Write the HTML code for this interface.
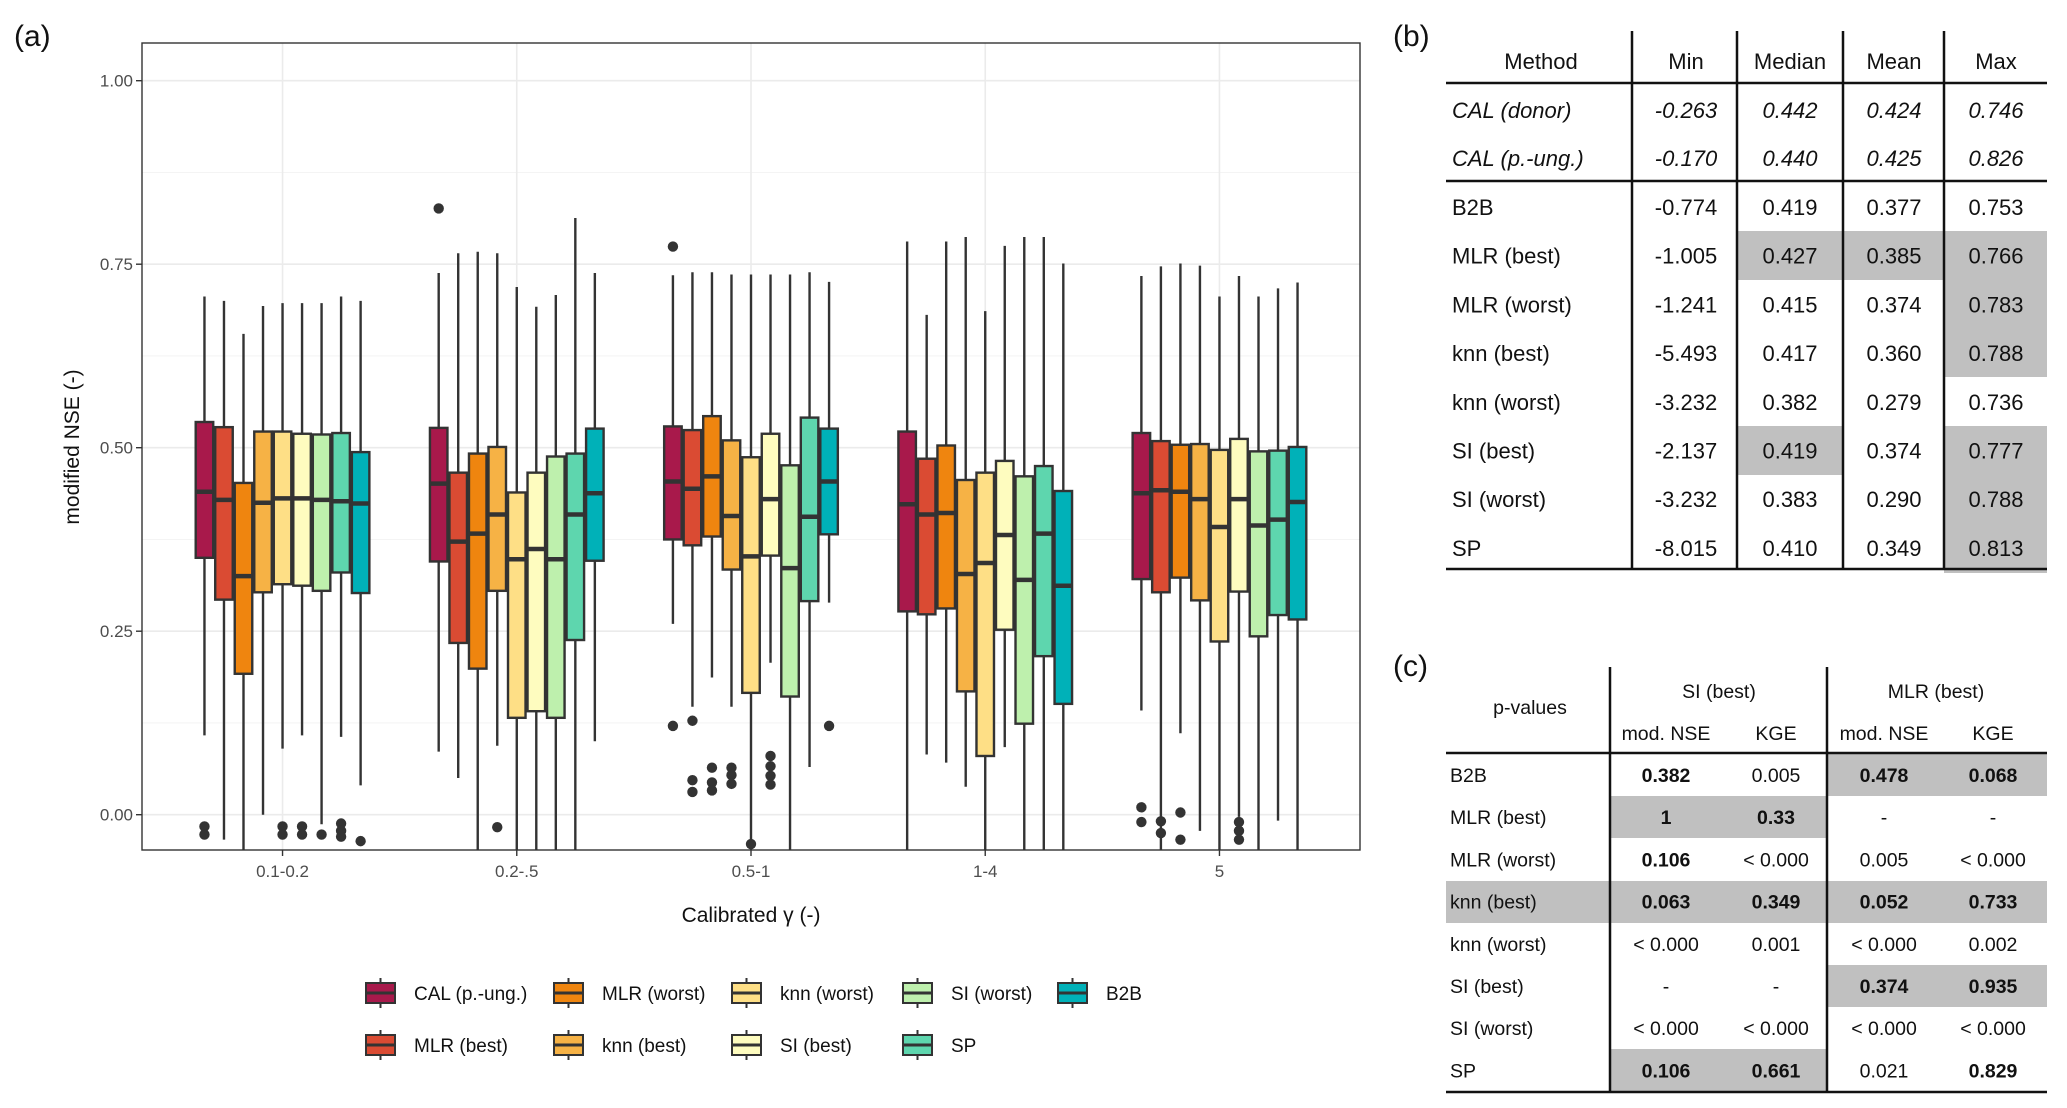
<!DOCTYPE html>
<html><head><meta charset="utf-8"><style>
html,body{margin:0;padding:0;background:#fff;}
svg{display:block;font-family:"Liberation Sans",Arial,sans-serif;}
</style></head><body>
<svg id="fig" width="2067" height="1108" viewBox="0 0 2067 1108" xmlns="http://www.w3.org/2000/svg">
<defs><clipPath id="pclip"><rect x="142" y="43" width="1218" height="807"/></clipPath></defs>
<text x="14" y="46" font-size="30" fill="#111">(a)</text>
<rect x="142" y="43" width="1218" height="807" fill="#fff"/>
<g id="grid"></g>
<g id="marks" clip-path="url(#pclip)"></g>
<rect x="142" y="43" width="1218" height="807" fill="none" stroke="#333" stroke-width="1.4"/>
<g id="axes"></g>
<text x="751" y="922" font-size="21" text-anchor="middle" fill="#111">Calibrated γ (-)</text>
<text transform="translate(79,447) rotate(-90)" font-size="21" text-anchor="middle" fill="#111">modified NSE (-)</text>
<g id="legend"></g>

<!-- Table b -->
<g font-size="22" fill="#111">
<text x="1393" y="46" font-size="30">(b)</text>
<rect x="1737" y="231" width="106" height="49" fill="#c0c0c0"/>
<rect x="1843" y="231" width="101" height="49" fill="#c0c0c0"/>
<rect x="1944" y="231" width="103" height="146" fill="#c0c0c0"/>
<rect x="1737" y="426" width="106" height="49" fill="#c0c0c0"/>
<rect x="1944" y="426" width="103" height="147" fill="#c0c0c0"/>
<g stroke="#111" stroke-width="2.5">
<line x1="1446" y1="83" x2="2047" y2="83"/>
<line x1="1446" y1="181" x2="2047" y2="181"/>
<line x1="1446" y1="569" x2="2047" y2="569"/>
<line x1="1632" y1="31" x2="1632" y2="569"/>
<line x1="1737" y1="31" x2="1737" y2="569"/>
<line x1="1843" y1="31" x2="1843" y2="569"/>
<line x1="1944" y1="31" x2="1944" y2="569"/>
</g>
<g text-anchor="middle">
<text x="1541" y="69">Method</text><text x="1686" y="69">Min</text><text x="1790" y="69">Median</text><text x="1894" y="69">Mean</text><text x="1996" y="69">Max</text>
</g>
<g font-style="italic">
<text x="1452" y="118">CAL (donor)</text><text x="1452" y="166">CAL (p.-ung.)</text>
<g text-anchor="middle"><text x="1686" y="118">-0.263</text><text x="1790" y="118">0.442</text><text x="1894" y="118">0.424</text><text x="1996" y="118">0.746</text>
<text x="1686" y="166">-0.170</text><text x="1790" y="166">0.440</text><text x="1894" y="166">0.425</text><text x="1996" y="166">0.826</text></g>
</g>
<g id="tb-rows"></g>
</g>

<!-- Table c -->
<g font-size="19.5" fill="#111">
<text x="1393" y="676" font-size="30">(c)</text>
<rect x="1827" y="754" width="220" height="42" fill="#c0c0c0"/>
<rect x="1610" y="796" width="217" height="42" fill="#c0c0c0"/>
<rect x="1446" y="881" width="601" height="42" fill="#c0c0c0"/>
<rect x="1827" y="965" width="220" height="42" fill="#c0c0c0"/>
<rect x="1610" y="1049" width="217" height="42" fill="#c0c0c0"/>
<g stroke="#111" stroke-width="2.5">
<line x1="1446" y1="753" x2="2047" y2="753"/>
<line x1="1446" y1="1092" x2="2047" y2="1092"/>
<line x1="1610" y1="667" x2="1610" y2="1092"/>
<line x1="1827" y1="667" x2="1827" y2="1092"/>
</g>
<g text-anchor="middle">
<text x="1530" y="714">p-values</text>
<text x="1719" y="698">SI (best)</text><text x="1936" y="698">MLR (best)</text>
<text x="1666" y="740">mod. NSE</text><text x="1776" y="740">KGE</text><text x="1884" y="740">mod. NSE</text><text x="1993" y="740">KGE</text>
</g>
<g id="tc-rows"></g>
</g>
</svg>
<script>
const NS='http://www.w3.org/2000/svg';
const categories=['0.1-0.2','0.2-.5','0.5-1','1-4','5'];
const seriesNames=['CAL (p.-ung.)','MLR (best)','MLR (worst)','knn (best)','knn (worst)','SI (best)','SI (worst)','SP','B2B'];
const seriesColors=['#A8194B','#DA4B33','#EF850F','#F6B245','#FEDF86','#FEFCBF','#BEF0AD','#5ED6AE','#00B1B8'];
const yTicks=[0,0.25,0.5,0.75,1];
const yTickLabels=['0.00','0.25','0.50','0.75','1.00'];
// stats[group][series]
const whiskerHigh=[
 [0.706,0.700,0.655,0.693,0.697,0.697,0.697,0.706,0.700],
 [0.738,0.765,0.767,0.765,0.719,0.692,0.708,0.813,0.738],
 [0.735,0.739,0.739,0.736,0.736,0.736,0.736,0.739,0.726],
 [0.781,0.681,0.781,0.787,0.686,0.775,0.787,0.787,0.751],
 [0.734,0.747,0.751,0.748,0.706,0.734,0.706,0.717,0.725]];
const q3=[
 [0.535,0.528,0.452,0.522,0.522,0.519,0.518,0.520,0.494],
 [0.527,0.466,0.492,0.501,0.439,0.466,0.488,0.492,0.526],
 [0.529,0.524,0.543,0.510,0.487,0.519,0.476,0.541,0.526],
 [0.522,0.485,0.503,0.456,0.466,0.482,0.461,0.475,0.441],
 [0.520,0.509,0.504,0.505,0.497,0.512,0.495,0.496,0.501]];
const median=[
 [0.440,0.429,0.325,0.425,0.431,0.431,0.429,0.427,0.424],
 [0.451,0.372,0.383,0.409,0.348,0.362,0.348,0.409,0.438],
 [0.454,0.444,0.461,0.407,0.352,0.430,0.336,0.406,0.454],
 [0.423,0.409,0.411,0.328,0.343,0.381,0.320,0.383,0.312],
 [0.438,0.442,0.440,0.430,0.392,0.430,0.394,0.402,0.426]];
const q1=[
 [0.350,0.293,0.192,0.303,0.314,0.312,0.305,0.330,0.302],
 [0.345,0.234,0.199,0.305,0.132,0.141,0.132,0.238,0.346],
 [0.375,0.367,0.379,0.334,0.166,0.353,0.161,0.291,0.382],
 [0.277,0.273,0.281,0.168,0.080,0.252,0.124,0.216,0.151],
 [0.321,0.303,0.323,0.292,0.236,0.304,0.243,0.272,0.266]];
const whiskerLow=[
 [0.108,-0.034,-0.06,0.000,0.090,0.108,-0.013,0.106,0.040],
 [0.086,0.050,-0.06,0.094,-0.06,-0.06,-0.06,-0.06,0.100],
 [0.260,0.147,0.187,0.147,-0.06,0.207,-0.06,0.065,0.289],
 [-0.06,0.082,0.071,0.038,-0.06,0.092,-0.06,-0.06,-0.06],
 [0.142,-0.06,0.111,-0.022,-0.06,-0.003,-0.06,-0.008,-0.06]];
const outliers=[
 [[-0.016,-0.027],[],[],[],[-0.016,-0.027],[-0.016,-0.027],[-0.027],[-0.012,-0.022,-0.030],[-0.036]],
 [[0.826],[],[],[-0.017],[],[],[],[],[]],
 [[0.774,0.121],[0.128,0.047,0.031],[0.064,0.044,0.033],[0.064,0.054,0.042],[-0.040],[0.080,0.066,0.053,0.041],[],[],[0.121]],
 [[],[],[],[],[],[],[],[],[]],
 [[0.010,-0.010],[-0.009,-0.025],[0.003,-0.034],[],[],[-0.010,-0.022,-0.034],[],[],[]]];

const PX0=142,PX1=1360,PY0=43,PY1=850;
const step=(PX1-PX0)/5.2;
function xCat(i){return PX0+step*(0.6+i);}
function yVal(v){return 814.7-v*734;}
const boxW=step*0.75/9;
function mk(tag,attrs,parent){const e=document.createElementNS(NS,tag);for(const k in attrs)e.setAttribute(k,attrs[k]);parent.appendChild(e);return e;}

const grid=document.getElementById('grid');
for(let i=0;i<yTicks.length;i++){
 const l=mk('line',{x1:PX0,x2:PX1,y1:yVal(yTicks[i]),y2:yVal(yTicks[i]),stroke:'#EBEBEB','stroke-width':1.6},grid);
 
 
 if(i<yTicks.length-1){
  const m=mk('line',{x1:PX0,x2:PX1,y1:yVal((yTicks[i]+yTicks[i+1])/2),y2:yVal((yTicks[i]+yTicks[i+1])/2),stroke:'#F2F2F2','stroke-width':0.9},grid);
  
  
 }
}
for(let g=0;g<categories.length;g++){
 const l=mk('line',{x1:xCat(g),x2:xCat(g),y1:PY0,y2:PY1,stroke:'#EBEBEB','stroke-width':1.6},grid);
 
 
}
const marks=document.getElementById('marks');
for(let g=0;g<categories.length;g++){
 const left=xCat(g)-step*0.375;
 for(let s=0;s<seriesNames.length;s++){
  const cx=left+boxW*(s+0.5), bx=left+boxW*s+1;
  const w=mk('line',{x1:cx,x2:cx,y1:yVal(whiskerHigh[g][s]),y2:yVal(q3[g][s]),stroke:'#333','stroke-width':2.4},marks);
  
  
  const w2=mk('line',{x1:cx,x2:cx,y1:yVal(q1[g][s]),y2:yVal(whiskerLow[g][s]),stroke:'#333','stroke-width':2.4},marks);
  
  
  const r=mk('rect',{x:bx,y:yVal(q3[g][s]),width:boxW-2,height:yVal(q1[g][s])-yVal(q3[g][s]),fill:seriesColors[s],stroke:'#333','stroke-width':2.4},marks);
  
  
  const m=mk('line',{x1:bx,x2:bx+boxW-2,y1:yVal(median[g][s]),y2:yVal(median[g][s]),stroke:'#333','stroke-width':4.5},marks);
  
  
  for(const o of outliers[g][s]){
   const c=mk('circle',{cx:cx,cy:yVal(o),r:5.2,fill:'#333'},marks);
   
   
  }
 }
}
const axes=document.getElementById('axes');
for(let i=0;i<yTicks.length;i++){
 const y=yVal(yTicks[i]);
 const t=mk('line',{x1:PX0-6,x2:PX0,y1:y,y2:y,stroke:'#333','stroke-width':1.4},axes);
 
 
 const tx=mk('text',{x:PX0-9,y:y+6,'font-size':17,'text-anchor':'end',fill:'#4D4D4D'},axes);
 tx.textContent=yTickLabels[i];
 
 
}
for(let g=0;g<categories.length;g++){
 const x=xCat(g);
 const t=mk('line',{x1:x,x2:x,y1:PY1,y2:PY1+6,stroke:'#333','stroke-width':1.4},axes);
 
 
 const tx=mk('text',{x:x,y:877,'font-size':17,'text-anchor':'middle',fill:'#4D4D4D'},axes);
 tx.textContent=categories[g];
 
 
}
// legend (column-major, 2 rows)
const legend=document.getElementById('legend');
const colX=[366,554,732,903,1058], rowY=[993,1045];
for(let s=0;s<seriesNames.length;s++){
 const col=Math.floor(s/2), row=s%2;
 const kx=colX[col], ky=rowY[row];
 const g=mk('g',{},legend);
 
 
 mk('line',{x1:kx+14.5,x2:kx+14.5,y1:ky-15,y2:ky+15,stroke:'#333','stroke-width':2},g);
 mk('rect',{x:kx,y:ky-10,width:29,height:20,fill:seriesColors[s],stroke:'#333','stroke-width':2},g);
 mk('line',{x1:kx,x2:kx+29,y1:ky,y2:ky,stroke:'#333','stroke-width':3},g);
 const t=mk('text',{x:kx+48,y:ky+7,'font-size':19,fill:'#111'},g);
 t.textContent=seriesNames[s];
}
// table b rows
const tbRows=[['B2B','-0.774','0.419','0.377','0.753'],['MLR (best)','-1.005','0.427','0.385','0.766'],['MLR (worst)','-1.241','0.415','0.374','0.783'],['knn (best)','-5.493','0.417','0.360','0.788'],['knn (worst)','-3.232','0.382','0.279','0.736'],['SI (best)','-2.137','0.419','0.374','0.777'],['SI (worst)','-3.232','0.383','0.290','0.788'],['SP','-8.015','0.410','0.349','0.813']];
const tb=document.getElementById('tb-rows');
const tbX=[1686,1790,1894,1996];
tbRows.forEach((r,i)=>{
 const y=215+i*48.7;
 const a=mk('text',{x:1452,y:y},tb);a.textContent=r[0];
 for(let j=1;j<5;j++){const t=mk('text',{x:tbX[j-1],y:y,'text-anchor':'middle'},tb);t.textContent=r[j];}
});
const tcRows=[['B2B','0.382','0.005','0.478','0.068'],['MLR (best)','1','0.33','-','-'],['MLR (worst)','0.106','< 0.000','0.005','< 0.000'],['knn (best)','0.063','0.349','0.052','0.733'],['knn (worst)','< 0.000','0.001','< 0.000','0.002'],['SI (best)','-','-','0.374','0.935'],['SI (worst)','< 0.000','< 0.000','< 0.000','< 0.000'],['SP','0.106','0.661','0.021','0.829']];
const tcBold=[[1,0,1,1],[1,1,0,0],[1,0,0,0],[1,1,1,1],[0,0,0,0],[0,0,1,1],[0,0,0,0],[1,1,0,1]];
const tc=document.getElementById('tc-rows');
const tcX=[1666,1776,1884,1993];
tcRows.forEach((r,i)=>{
 const y=782+i*42.2;
 const a=mk('text',{x:1450,y:y},tc);a.textContent=r[0];
 for(let j=1;j<5;j++){const t=mk('text',{x:tcX[j-1],y:y,'text-anchor':'middle','font-weight':tcBold[i][j-1]?'bold':'normal'},tc);t.textContent=r[j];}
});
</script>
</body></html>
